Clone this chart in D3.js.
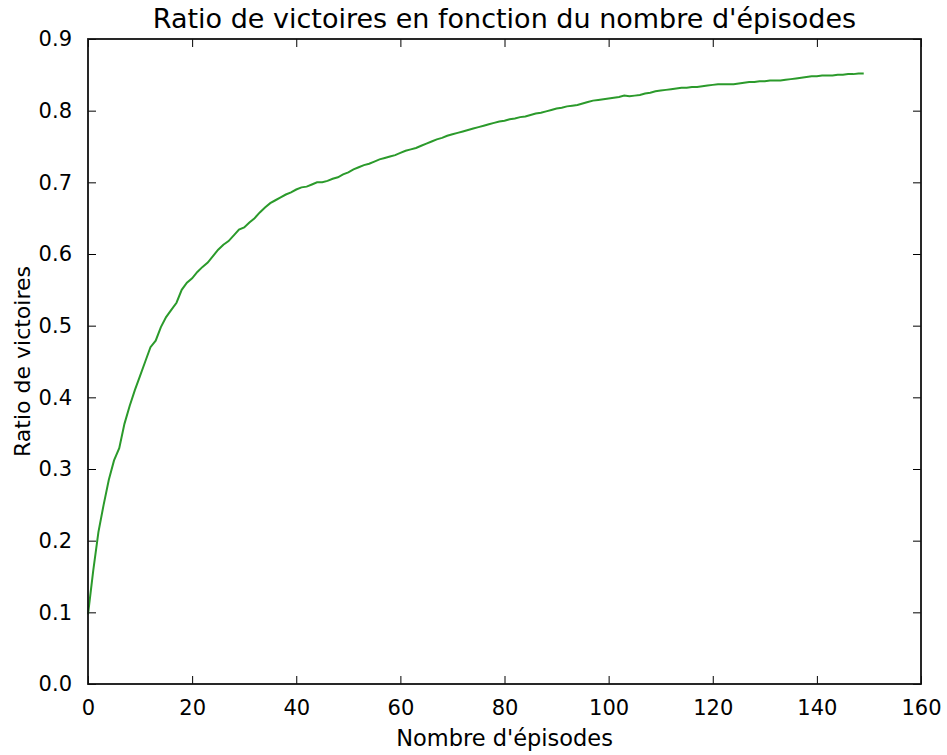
<!DOCTYPE html>
<html>
<head>
<meta charset="utf-8">
<script src="https://cdn.jsdelivr.net/npm/d3@7"></script>
<style>
  body { margin: 0; background: #fff; }
  text { font-family: "DejaVu Sans", sans-serif; fill: #000; }
</style>
</head>
<body>
<svg id="graphic"></svg>
<script>
  // episode index 0..149 and win ratio
  var episodes = d3.range(0, 150);
  var ratios = [
    0.097, 0.158, 0.212, 0.250, 0.285, 0.312, 0.329, 0.363, 0.388, 0.410,
    0.430, 0.450, 0.470, 0.479, 0.498, 0.512, 0.522, 0.532, 0.550, 0.560,
    0.566, 0.575, 0.582, 0.588, 0.597, 0.606, 0.613, 0.618, 0.626, 0.634,
    0.637, 0.644, 0.650, 0.658, 0.665, 0.671, 0.675, 0.679, 0.683, 0.686,
    0.690, 0.693, 0.694, 0.697, 0.700, 0.700, 0.702, 0.705, 0.707, 0.711,
    0.714, 0.718, 0.721, 0.724, 0.726, 0.729, 0.732, 0.734, 0.736, 0.738,
    0.741, 0.744, 0.746, 0.748, 0.751, 0.754, 0.757, 0.760, 0.762, 0.765,
    0.767, 0.769, 0.771, 0.773, 0.775, 0.777, 0.779, 0.781, 0.783, 0.785,
    0.786, 0.788, 0.789, 0.791, 0.792, 0.794, 0.796, 0.797, 0.799, 0.801,
    0.803, 0.804, 0.806, 0.807, 0.808, 0.810, 0.812, 0.814, 0.815, 0.816,
    0.817, 0.818, 0.819, 0.821, 0.820, 0.821, 0.822, 0.824, 0.825, 0.827,
    0.828, 0.829, 0.830, 0.831, 0.832, 0.832, 0.833, 0.833, 0.834, 0.835,
    0.836, 0.837, 0.837, 0.837, 0.837, 0.838, 0.839, 0.840, 0.840, 0.841,
    0.841, 0.842, 0.842, 0.842, 0.843, 0.844, 0.845, 0.846, 0.847, 0.848,
    0.848, 0.849, 0.849, 0.849, 0.850, 0.850, 0.851, 0.851, 0.852, 0.852
  ];
  var xTicks = [0, 20, 40, 60, 80, 100, 120, 140, 160];
  var yTicks = [0, 0.1, 0.2, 0.3, 0.4, 0.5, 0.6, 0.7, 0.8, 0.9];

  var svgWidth = 947, svgHeight = 755;
  var margin = {top: 39, right: 26, bottom: 71, left: 88};
  var width = svgWidth - margin.left - margin.right;
  var height = svgHeight - margin.top - margin.bottom;

  var svg = d3.select("#graphic")
    .attr("width", svgWidth)
    .attr("height", svgHeight);

  var g = svg.append("g")
    .attr("transform", "translate(" + margin.left + "," + margin.top + ")");

  var x = d3.scaleLinear().domain([0, 160]).range([0, width]);
  var y = d3.scaleLinear().domain([0, 0.9]).range([height, 0]);

  // ticks point inward on all four sides (matplotlib classic look)
  function styleAxis(sel) {
    sel.select(".domain").remove();
    sel.selectAll(".tick line").attr("stroke", "#000").attr("stroke-width", 1);
    sel.selectAll("text").style("font-size", "21px");
  }

  g.append("g")
    .attr("transform", "translate(0," + height + ")")
    .call(d3.axisBottom(x).tickValues(xTicks).tickSizeInner(-8).tickPadding(16).tickFormat(d3.format("d")))
    .call(styleAxis);

  g.append("g")
    .call(d3.axisTop(x).tickValues(xTicks).tickSizeInner(-8).tickFormat(""))
    .call(styleAxis);

  g.append("g")
    .call(d3.axisLeft(y).tickValues(yTicks).tickSizeInner(-8).tickPadding(16).tickFormat(d3.format(".1f")))
    .call(styleAxis);

  g.append("g")
    .attr("transform", "translate(" + width + ",0)")
    .call(d3.axisRight(y).tickValues(yTicks).tickSizeInner(-8).tickFormat(""))
    .call(styleAxis);

  var line = d3.line()
    .x(function(d, i) { return x(episodes[i]); })
    .y(function(d) { return y(d); });

  g.append("path")
    .datum(ratios)
    .attr("d", line)
    .attr("fill", "none")
    .attr("stroke", "#2b9a2b")
    .attr("stroke-width", 2);

  // frame
  g.append("rect")
    .attr("width", width)
    .attr("height", height)
    .attr("fill", "none")
    .attr("stroke", "#111")
    .attr("stroke-width", 1.8);

  svg.append("text")
    .attr("x", margin.left + width / 2)
    .attr("y", 28)
    .attr("text-anchor", "middle")
    .style("font-size", "27px")
    .text("Ratio de victoires en fonction du nombre d'épisodes");

  svg.append("text")
    .attr("x", margin.left + width / 2)
    .attr("y", 746)
    .attr("text-anchor", "middle")
    .style("font-size", "22.5px")
    .text("Nombre d'épisodes");

  svg.append("text")
    .attr("transform", "translate(30," + (margin.top + height / 2) + ") rotate(-90)")
    .attr("text-anchor", "middle")
    .style("font-size", "22px")
    .text("Ratio de victoires");
</script>
</body>
</html>
